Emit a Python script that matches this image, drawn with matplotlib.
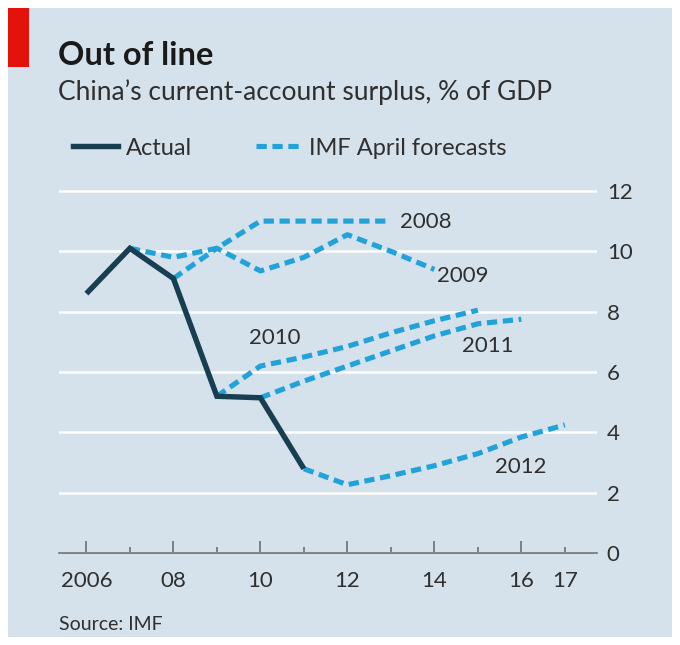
import matplotlib
matplotlib.use("Agg")
import matplotlib.pyplot as plt
from matplotlib.patches import Rectangle
from matplotlib.lines import Line2D

plt.rcParams["font.family"] = ["Lato", "DejaVu Sans"]

# China's current-account surplus, % of GDP
actual_years = [2006, 2007, 2008, 2009, 2010, 2011]
actual = [8.6, 10.1, 9.1, 5.2, 5.15, 2.8]

# IMF April forecasts, one series per vintage (starting from the last actual)
f2008_years = [2007, 2008, 2009, 2010, 2011, 2012, 2013]
f2008 = [10.1, 9.8, 10.1, 11.0, 11.0, 11.0, 11.0]
f2009_years = [2008, 2009, 2010, 2011, 2012, 2013, 2014]
f2009 = [9.1, 10.1, 9.35, 9.8, 10.55, 10.0, 9.4]
f2010_years = [2009, 2010, 2011, 2012, 2013, 2014, 2015]
f2010 = [5.2, 6.2, 6.5, 6.85, 7.3, 7.7, 8.05]
f2011_years = [2010, 2011, 2012, 2013, 2014, 2015, 2016]
f2011 = [5.15, 5.7, 6.2, 6.7, 7.2, 7.6, 7.75]
f2012_years = [2011, 2012, 2013, 2014, 2015, 2016, 2017]
f2012 = [2.8, 2.27, 2.57, 2.9, 3.3, 3.85, 4.25]

forecast_names = ["2008", "2009", "2010", "2011", "2012"]

y_ticks = [0, 2, 4, 6, 8, 10, 12]
x_major = [2006, 2008, 2010, 2012, 2014, 2016]
x_major_labels = ["2006", "08", "10", "12", "14", "16"]
x_minor = [2007, 2009, 2011, 2013, 2015, 2017]
x_minor_labels = ["", "", "", "", "", "17"]

BG = "#d5e2eb"
DARK = "#173e51"
BLUE = "#21a3d9"
TEXT = "#2f2f2f"
AXIS = "#666666"

W, H = 680, 645
fig = plt.figure(figsize=(W / 100, H / 100), dpi=100, facecolor="white")
fig.add_artist(Rectangle((8 / W, 8 / H), 664 / W, 629 / H, transform=fig.transFigure,
                         facecolor=BG, edgecolor="none", zorder=0))
fig.add_artist(Rectangle((8 / W, 1 - 67 / H), 21 / W, 59 / H, transform=fig.transFigure,
                         facecolor="#e3120b", edgecolor="none", zorder=1))

ax = fig.add_axes([59 / W, (H - 553.3) / H, 538 / W, 12.3 * 30.2 / H])
ax.set_facecolor("none")
ax.set_xlim(2005.37, 2017.74)
ax.set_ylim(0, 12.3)

forecasts = [(f2008_years, f2008), (f2009_years, f2009), (f2010_years, f2010),
             (f2011_years, f2011), (f2012_years, f2012)]
for yrs, vals in forecasts:
    ax.plot(yrs, vals, color=BLUE, lw=3.7, dashes=(2.0, 1.1),
            dash_capstyle="butt", solid_joinstyle="miter", zorder=3)
ax.plot(actual_years, actual, color=DARK, lw=3.9, solid_joinstyle="miter",
        solid_capstyle="butt", zorder=4)

# vintage labels next to each forecast line
label_pos = [(2013.2, 10.97, "left"), (2014.05, 9.17, "left"), (2010.33, 7.13, "center"),
             (2015.22, 6.86, "center"), (2015.98, 2.87, "center")]
for name, (lx, ly, ha) in zip(forecast_names, label_pos):
    ax.text(lx, ly, name, ha=ha, va="center", fontsize=16, color=TEXT, zorder=5)

ax.set_yticks(y_ticks)
ax.set_yticklabels([str(v) for v in y_ticks])
ax.yaxis.tick_right()
ax.tick_params(axis="y", length=0, pad=7, labelsize=16, labelcolor=TEXT)
ax.yaxis.grid(True, color="white", lw=1.8)
ax.set_axisbelow(True)

ax.set_xticks(x_major)
ax.set_xticklabels(x_major_labels)
ax.set_xticks(x_minor, minor=True)
ax.set_xticklabels(x_minor_labels, minor=True)
ax.tick_params(axis="x", which="major", direction="in", length=8.5, width=1.1,
               color=AXIS, pad=13, labelsize=16, labelcolor=TEXT)
ax.tick_params(axis="x", which="minor", direction="in", length=4.5, width=1.1,
               color=AXIS, pad=13, labelsize=16, labelcolor=TEXT)

for side in ["top", "left", "right"]:
    ax.spines[side].set_visible(False)
ax.spines["bottom"].set_color(AXIS)
ax.spines["bottom"].set_linewidth(1.1)

fig.text(58 / W, 1 - 65 / H, "Out of line", fontsize=23.5, fontweight="bold",
         color="#1a1a1a", va="baseline")
fig.text(58 / W, 1 - 100 / H, "China\u2019s current-account surplus, % of GDP",
         fontsize=19, color=TEXT, va="baseline")

handles = [Line2D([0], [0], color=DARK, lw=3.9),
           Line2D([0], [0], color=BLUE, lw=3.7, dashes=(2.0, 1.1))]
fig.legend(handles, ["Actual", "IMF April forecasts"], loc="center left",
           bbox_to_anchor=(52 / W, 1 - 148 / H), ncol=2, frameon=False,
           fontsize=17, handlelength=1.9, handletextpad=0.35, columnspacing=2.7,
           labelcolor=TEXT)

fig.text(59 / W, 1 - 625 / H, "Source: IMF", fontsize=14, color=TEXT, va="center")

fig.savefig("out.png", dpi=100, facecolor="white")
